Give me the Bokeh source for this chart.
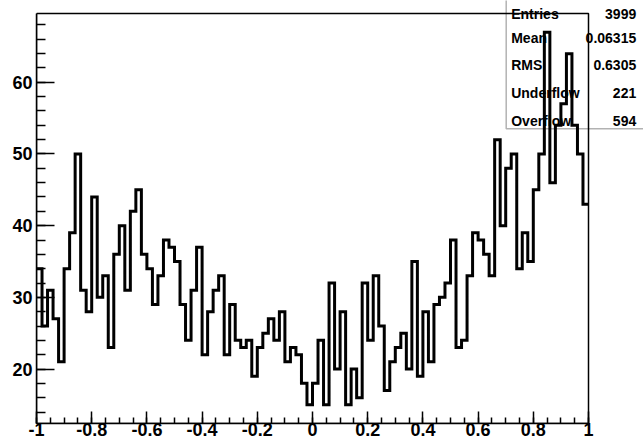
import numpy as np
from bokeh.plotting import figure
from bokeh.models import Range1d, FixedTicker, Label, BoxAnnotation
from bokeh.embed import file_html
from bokeh.resources import INLINE

# ---------------- data ----------------
x_low, x_high = -1.0, 1.0
counts = [34, 26, 31, 27, 21, 34, 39, 50, 31, 28,
          44, 30, 33, 23, 36, 40, 31, 42, 45, 36,
          34, 29, 33, 38, 37, 35, 29, 24, 31, 37,
          22, 28, 31, 33, 22, 29, 24, 23, 24, 19,
          23, 25, 27, 24, 28, 21, 23, 22, 18, 15,
          18, 24, 15, 32, 20, 28, 15, 20, 16, 32,
          24, 33, 26, 17, 21, 23, 25, 20, 35, 19,
          28, 21, 29, 30, 32, 38, 23, 24, 33, 39,
          38, 36, 33, 52, 40, 48, 50, 34, 39, 35,
          45, 50, 67, 46, 54, 57, 64, 54, 50, 43]

x_tick_values = [-1, -0.8, -0.6, -0.4, -0.2, 0, 0.2, 0.4, 0.6, 0.8, 1]
x_tick_labels = ["-1", "-0.8", "-0.6", "-0.4", "-0.2", "0", "0.2", "0.4", "0.6", "0.8", "1"]
y_tick_values = [20, 30, 40, 50, 60]
y_tick_labels = ["20", "30", "40", "50", "60"]

stats_names = ["Entries", "Mean", "RMS", "Underflow", "Overflow"]
stats_values = ["3999", "0.06315", "0.6305", "221", "594"]

# ---------------- derived ----------------
n_bins = len(counts)
edges = np.linspace(x_low, x_high, n_bins + 1)
step_y = list(counts) + [counts[-1]]
cmin, cmax = min(counts), max(counts)
pad = 0.05 * (cmax - cmin)
y_lo, y_hi = cmin - pad, cmax + pad

FONT = "Liberation Sans"

# page geometry (pixels): histogram area 36..588 x 13..423 on a 643x442 canvas.
# The drawing frame is extended to the right and top edges so that the
# statistics box (which overhangs the histogram area) is not clipped.
W, H = 643, 442
AX_L, AX_R, AX_T, AX_B = 36, 588, 13, 423
ppx = (AX_R - AX_L) / (x_high - x_low)
ppy = (AX_B - AX_T) / (y_hi - y_lo)
x_end = x_high + (W - AX_R) / ppx
y_end = y_hi + AX_T / ppy

p = figure(width=W, height=H,
           x_range=Range1d(x_low, x_end), y_range=Range1d(y_lo, y_end),
           output_backend="svg", toolbar_location=None,
           min_border_left=AX_L, min_border_right=0,
           min_border_top=0, min_border_bottom=H - AX_B)

p.background_fill_color = "white"
p.border_fill_color = "white"
p.outline_line_color = None
p.xgrid.grid_line_color = None
p.ygrid.grid_line_color = None

# x axis
xa = p.xaxis[0]
x_minor = [round(v, 4) for v in np.arange(x_low, x_high + 1e-9, 0.05)]
xa.ticker = FixedTicker(ticks=x_tick_values, minor_ticks=x_minor)
xa.major_label_overrides = {t: l for t, l in zip(x_tick_values, x_tick_labels)}
xa.bounds = (x_low, x_high)
xa.major_tick_in = 12
xa.major_tick_out = 0
xa.minor_tick_in = 6
xa.minor_tick_out = 0
xa.major_label_standoff = -1

# y axis
ya = p.yaxis[0]
y_minor = list(range(14, 70, 2))
ya.ticker = FixedTicker(ticks=y_tick_values, minor_ticks=y_minor)
ya.major_label_overrides = {t: l for t, l in zip(y_tick_values, y_tick_labels)}
ya.bounds = (y_lo, y_hi)
ya.major_tick_in = 18
ya.major_tick_out = 0
ya.minor_tick_in = 9
ya.minor_tick_out = 0
ya.major_label_standoff = 4

for ax in (xa, ya):
    ax.axis_line_color = "black"
    ax.axis_line_width = 1.5
    ax.major_tick_line_color = "black"
    ax.minor_tick_line_color = "black"
    ax.major_tick_line_width = 1.5
    ax.minor_tick_line_width = 1.5
    ax.major_label_text_font = FONT
    ax.major_label_text_font_style = "bold"
    ax.major_label_text_font_size = "18px"
    ax.major_label_text_color = "black"

# histogram frame (top and right edges of the axes box)
p.quad(left=[x_low], right=[x_high], bottom=[y_lo], top=[y_hi],
       fill_color=None, line_color="black", line_width=1.5)

# stats box (page pixel coordinates -> frame screen units)
def sx(px):
    return px - AX_L

def sy(py):
    return AX_B - py

box = BoxAnnotation(left=sx(505.7), right=sx(700), top=sy(-30), bottom=sy(128.3),
                    left_units="screen", right_units="screen",
                    top_units="screen", bottom_units="screen",
                    fill_color=None, fill_alpha=0,
                    line_color="black", line_width=1.5)
p.add_layout(box)

rows_baseline = [13, 37.5, 64.5, 92, 120]
for name, val, ry in zip(stats_names, stats_values, rows_baseline):
    p.add_layout(Label(x=sx(510.7), y=sy(ry), x_units="screen", y_units="screen",
                       text=name, text_align="left", text_baseline="alphabetic",
                       text_font=FONT, text_font_style="bold",
                       text_font_size="14px", text_color="black"))
    p.add_layout(Label(x=sx(635.7), y=sy(ry), x_units="screen", y_units="screen",
                       text=val, text_align="right", text_baseline="alphabetic",
                       text_font=FONT, text_font_style="bold",
                       text_font_size="14px", text_color="black"))

# histogram outline (drawn above the statistics box, as in the reference)
p.step(x=edges, y=step_y, mode="after", line_color="black", line_width=3,
       line_join="miter", level="overlay")

open("out.html", "w").write(file_html(p, INLINE))
